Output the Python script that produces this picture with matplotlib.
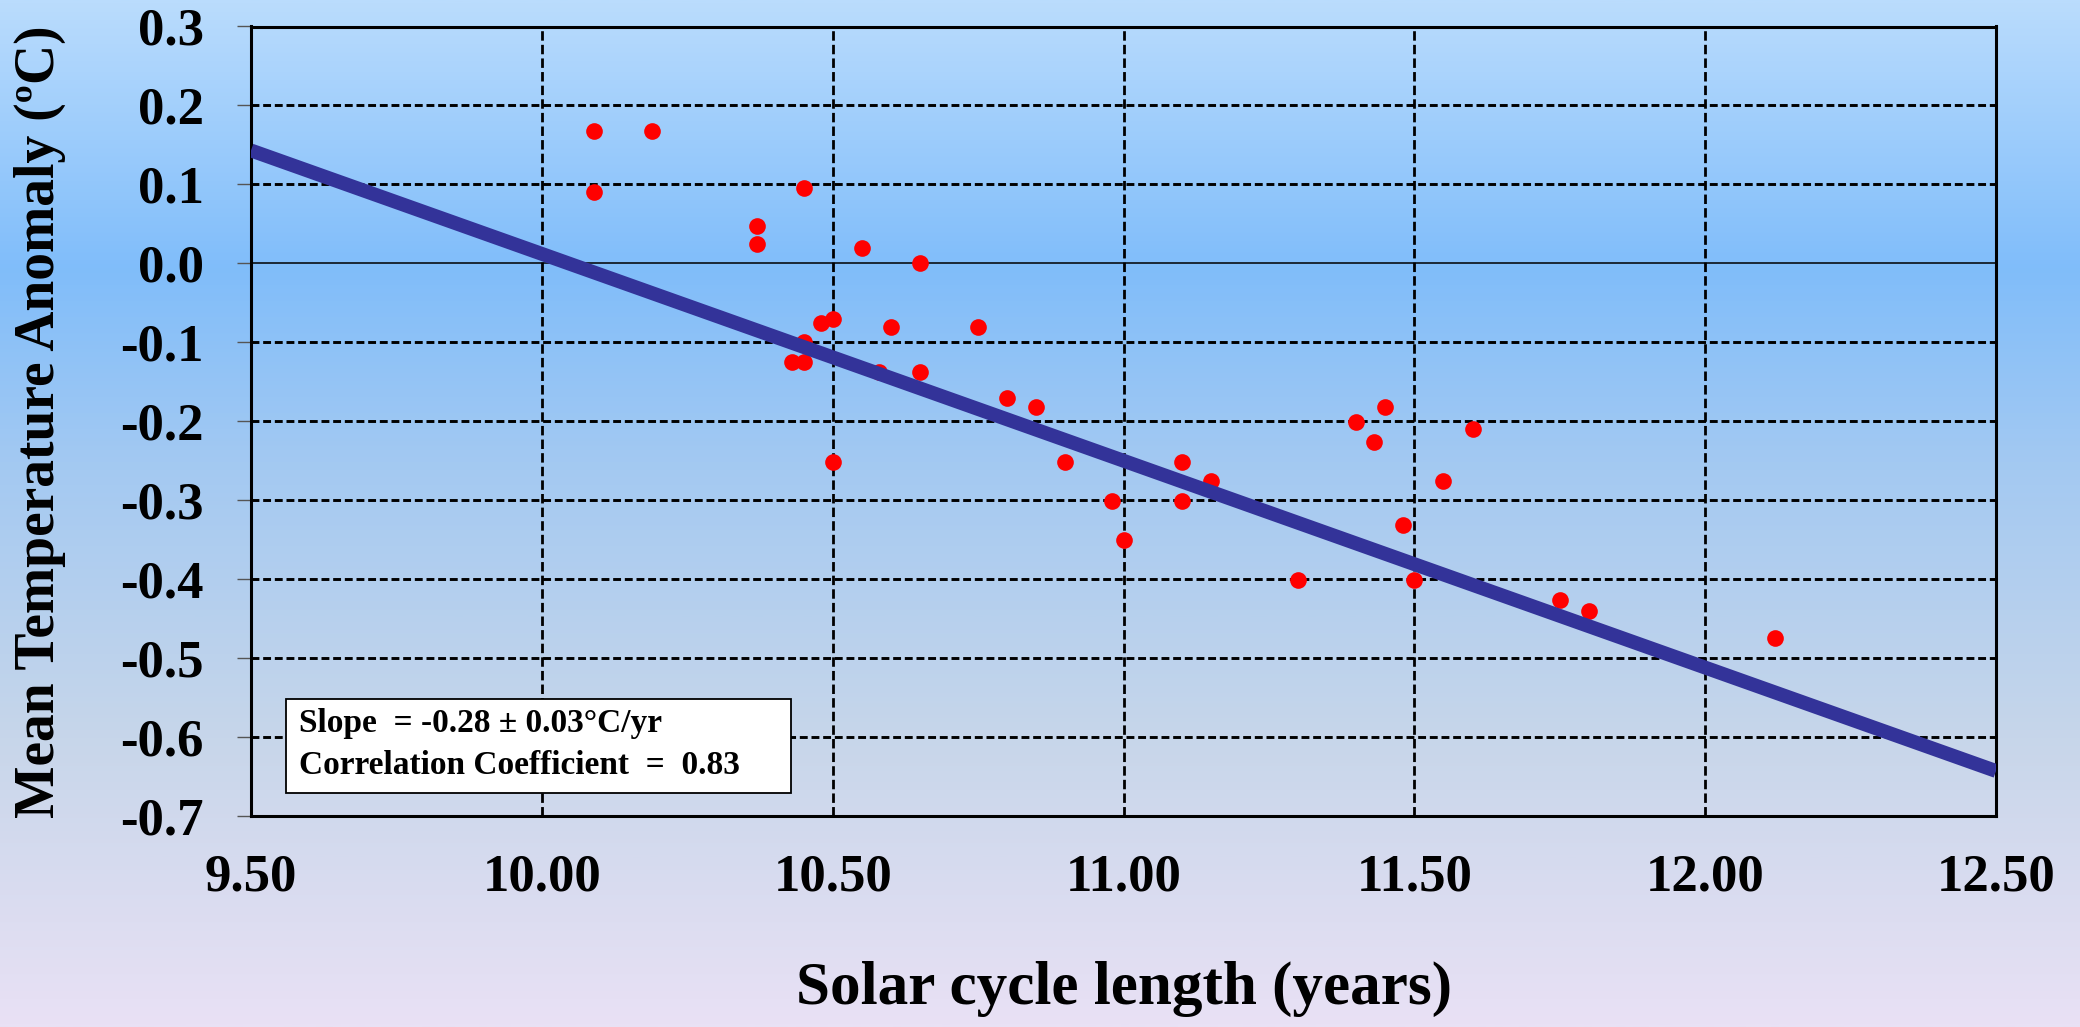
import numpy as np
import matplotlib
matplotlib.use("Agg")
import matplotlib.pyplot as plt
from matplotlib.colors import LinearSegmentedColormap
from matplotlib.patches import Rectangle

# ---------------- data ----------------
cycle_length = [10.09, 10.09, 10.19, 10.37, 10.37, 10.45, 10.55, 10.65,
                10.48, 10.50, 10.45, 10.43, 10.45, 10.58, 10.60, 10.65,
                10.50, 10.75, 10.80, 10.85, 10.90, 10.98, 11.00, 11.10,
                11.10, 11.15, 11.30, 11.40, 11.43, 11.45, 11.48, 11.50,
                11.55, 11.60, 11.75, 11.80, 12.12]
temp_anomaly = [0.168, 0.091, 0.168, 0.047, 0.024, 0.095, 0.020, 0.000,
                -0.076, -0.071, -0.100, -0.125, -0.125, -0.138, -0.081, -0.138,
                -0.251, -0.081, -0.170, -0.182, -0.251, -0.301, -0.351, -0.251,
                -0.301, -0.276, -0.401, -0.201, -0.226, -0.182, -0.331, -0.401,
                -0.276, -0.210, -0.426, -0.440, -0.475]
fit_x = [9.5, 12.5]
fit_y = [0.143, -0.643]

x_ticks = [9.5, 10.0, 10.5, 11.0, 11.5, 12.0, 12.5]
x_labels = ["9.50", "10.00", "10.50", "11.00", "11.50", "12.00", "12.50"]
y_ticks = [0.3, 0.2, 0.1, 0.0, -0.1, -0.2, -0.3, -0.4, -0.5, -0.6, -0.7]
y_labels = ["0.3", "0.2", "0.1", "0.0", "-0.1", "-0.2", "-0.3", "-0.4",
            "-0.5", "-0.6", "-0.7"]

stats_lines = ["Slope  = -0.28 \u00b1 0.03\u00b0C/yr",
               "Correlation Coefficient  =  0.83"]
x_title = "Solar cycle length (years)"
y_title = "Mean Temperature Anomaly (\u00baC)"

# ---------------- figure ----------------
W, H = 2080, 1027
fig = plt.figure(figsize=(W / 100, H / 100), dpi=100)
FONT = "Liberation Serif"

# background gradient
bg = fig.add_axes([0, 0, 1, 1], zorder=-10)
cmap = LinearSegmentedColormap.from_list(
    "bg",
    [(0.0, "#badcfd"), (0.26, "#80bdfa"), (0.45, "#a3c9f2"),
     (0.72, "#c7d6ea"), (1.0, "#e9e1f5")])
grad = np.linspace(0, 1, 512).reshape(-1, 1)
bg.imshow(grad, aspect="auto", cmap=cmap, extent=[0, 1, 0, 1], origin="upper")
bg.axis("off")

# main axes
L, R, T, B = 251, 1996, 26.5, 816
ax = fig.add_axes([L / W, 1 - B / H, (R - L) / W, (B - T) / H])
ax.patch.set_alpha(0)
ax.set_xlim(9.5, 12.5)
ax.set_ylim(-0.7, 0.3)

for xv in x_ticks[1:-1]:
    ax.axvline(xv, color="black", lw=2.0, dashes=(3.4, 1.5), zorder=1)
for yv in y_ticks:
    if abs(yv) < 1e-9:
        ax.axhline(yv, color="black", lw=1.1, zorder=1)
    elif -0.7 < yv < 0.3:
        ax.axhline(yv, color="black", lw=2.1, dashes=(2.7, 1.3), zorder=1)

ax.plot(cycle_length, temp_anomaly, "o", color="#ff0000", ms=12,
        mec="none", zorder=3)
ax.plot(fit_x, fit_y, color="#333399", lw=10, solid_capstyle="butt",
        zorder=4)

for s in ax.spines.values():
    s.set_linewidth(2.2)
    s.set_color("black")

ax.set_xticks(x_ticks)
ax.set_xticklabels(x_labels, fontfamily=FONT, fontweight="bold", fontsize=38)
ax.set_yticks(y_ticks)
ax.set_yticklabels(y_labels, fontfamily=FONT, fontweight="bold", fontsize=38)
ax.tick_params(axis="x", length=0, pad=27)
ax.tick_params(axis="y", length=10, width=1, color="#555555", pad=24)

# stats box
bx0, by0, bx1, by1 = 286, 699, 791, 793
fig.patches.append(Rectangle((bx0 / W, 1 - by1 / H), (bx1 - bx0) / W,
                             (by1 - by0) / H, transform=fig.transFigure,
                             facecolor="white", edgecolor="black", lw=1.3,
                             zorder=5))
for txt, base in zip(stats_lines, [732, 774]):
    fig.text(299 / W, 1 - base / H, txt, fontfamily=FONT, fontweight="bold",
             fontsize=24, va="baseline", ha="left", zorder=6)

# axis titles
fig.text((L + R) / 2 / W, 1 - 1004 / H, x_title, fontfamily=FONT,
         fontweight="bold", fontsize=44, ha="center", va="baseline")
fig.text(40 / W, 1 - (T + B) / 2 / H, y_title, fontfamily=FONT,
         fontweight="bold", fontsize=40, ha="center", va="center",
         rotation=90)

fig.savefig("out.png", dpi=100)
